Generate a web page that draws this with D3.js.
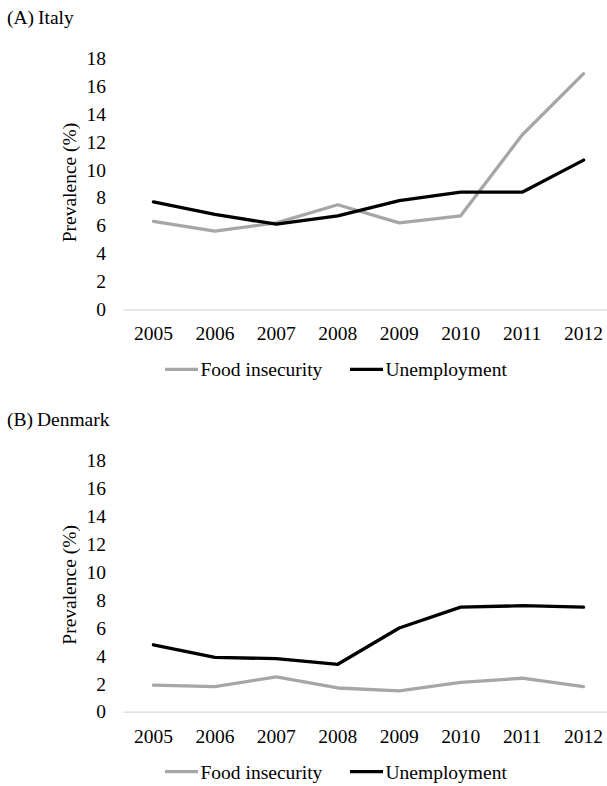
<!DOCTYPE html>
<html><head><meta charset="utf-8">
<script src="https://cdn.jsdelivr.net/npm/d3@7"></script>
<style>
html,body{margin:0;padding:0;background:#fff;}
svg text{font-family:"Liberation Serif","Times New Roman",serif;fill:#000;}
</style></head>
<body>
<svg id="chart" width="607" height="786"></svg>
<script>
const years = ["2005","2006","2007","2008","2009","2010","2011","2012"];
const yTicks = [0,2,4,6,8,10,12,14,16,18];
const seriesNames = ["Food insecurity","Unemployment"];
const seriesColors = ["#a6a6a6","#000000"];
const italyFood = [6.3,5.6,6.2,7.5,6.2,6.7,12.5,16.9];
const italyUnemp = [7.7,6.8,6.1,6.7,7.8,8.4,8.4,10.7];
const denmarkFood = [1.9,1.8,2.5,1.7,1.5,2.1,2.4,1.8];
const denmarkUnemp = [4.8,3.9,3.8,3.4,6.0,7.5,7.6,7.5];
const panels = [
  {title:"(A)\u2009Italy", series:[italyFood, italyUnemp], top:0},
  {title:"(B)\u2009Denmark", series:[denmarkFood, denmarkUnemp], top:402.4}
];

const svg = d3.select("#chart");
const fs = 19.5;

const x = d3.scaleBand().domain(years).range([122.7, 122.7 + 8*61.45]).padding(0);
const y = d3.scaleLinear().domain([0,18]).range([309.3, 58.3]);

panels.forEach(p => {
  const g = svg.append("g").attr("transform", `translate(0,${p.top})`);
  g.append("text").attr("x", 7).attr("y", 17).attr("dy","0.35em")
    .style("font-size", fs+"px").text(p.title);

  // y axis labels
  const ya = g.append("g").attr("transform","translate(106,0)")
    .call(d3.axisLeft(y).tickValues(yTicks).tickSize(0).tickPadding(0).tickFormat(d3.format("d")));
  ya.select(".domain").remove();
  ya.selectAll("text").style("font-size", fs+"px").attr("font-family", null);

  // x axis
  const xa = g.append("g").attr("transform", `translate(0,${y(0)})`)
    .call(d3.axisBottom(x).tickSize(0).tickPadding(17));
  xa.select(".domain").attr("stroke","#d9d9d9").attr("stroke-width",1.3);
  xa.selectAll("text").style("font-size", fs+"px").attr("font-family", null);

  g.append("text")
    .attr("transform", `translate(68.7,182.5) rotate(-90)`)
    .attr("text-anchor","middle").attr("dy","0.35em")
    .style("font-size", fs+"px").text("Prevalence (%)");

  const line = d3.line().x((d,i)=>x(years[i]) + x.bandwidth()/2).y(d=>y(d));
  p.series.forEach((s, k) => {
    g.append("path").datum(s).attr("d", line)
      .attr("fill","none").attr("stroke", seriesColors[k])
      .attr("stroke-width", 3.3).attr("stroke-linejoin","round").attr("stroke-linecap","round");
  });

  // legend
  const legY = 369.3;
  const legX = [165, 350];
  seriesNames.forEach((n,k) => {
    g.append("line").attr("x1", legX[k]).attr("x2", legX[k]+33)
      .attr("y1", legY).attr("y2", legY)
      .attr("stroke", seriesColors[k]).attr("stroke-width", 3.3);
    g.append("text").attr("x", legX[k]+35.5).attr("y", legY).attr("dy","0.35em")
      .style("font-size", fs+"px").text(n);
  });
});
</script>
</body></html>
